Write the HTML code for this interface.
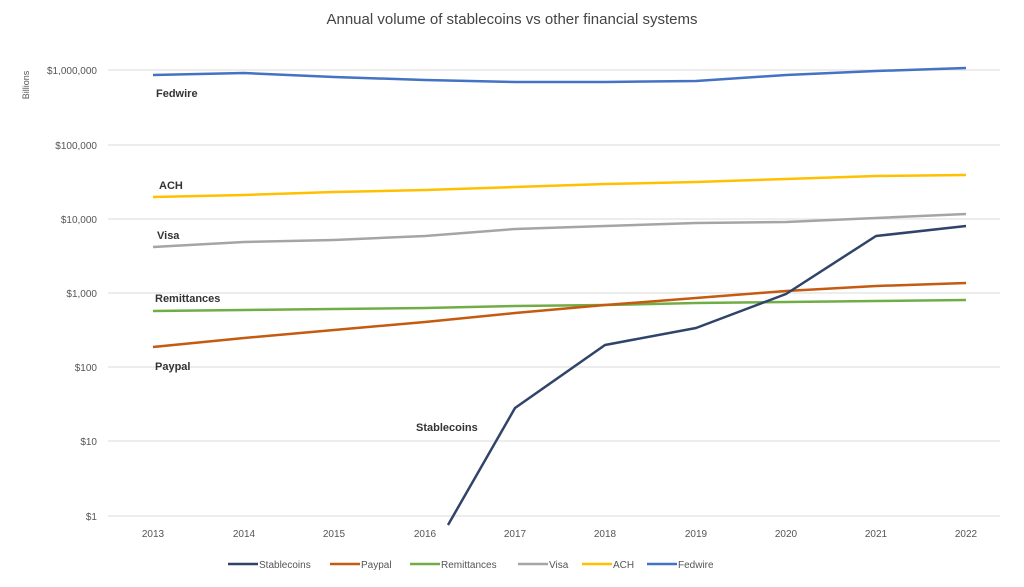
<!DOCTYPE html>
<html><head><meta charset="utf-8"><style>
body{margin:0;background:#fff;}
svg{display:block;font-family:"Liberation Sans",sans-serif;}
</style></head><body>
<svg width="1024" height="587" viewBox="0 0 1024 587">
<rect width="1024" height="587" fill="#fff"/>
<text x="512" y="24" text-anchor="middle" font-size="15" fill="#444">Annual volume of stablecoins vs other financial systems</text>
<text transform="translate(29,85) rotate(-90)" text-anchor="middle" font-size="9" fill="#555">Billions</text>
<g stroke="#e2e2e2" stroke-width="1.2">
<line x1="108" x2="1000" y1="70" y2="70"/><line x1="108" x2="1000" y1="145" y2="145"/>
<line x1="108" x2="1000" y1="219" y2="219"/><line x1="108" x2="1000" y1="293" y2="293"/>
<line x1="108" x2="1000" y1="367" y2="367"/><line x1="108" x2="1000" y1="441" y2="441"/>
<line x1="108" x2="1000" y1="516" y2="516"/>
</g>
<g font-size="10" fill="#555" text-anchor="end">
<text x="97" y="74">$1,000,000</text><text x="97" y="149">$100,000</text>
<text x="97" y="223">$10,000</text><text x="97" y="297">$1,000</text>
<text x="97" y="371">$100</text><text x="97" y="445">$10</text><text x="97" y="520">$1</text>
</g>
<g font-size="10" fill="#555" text-anchor="middle">
<text x="153" y="537">2013</text><text x="244" y="537">2014</text><text x="334" y="537">2015</text>
<text x="425" y="537">2016</text><text x="515" y="537">2017</text><text x="605" y="537">2018</text>
<text x="696" y="537">2019</text><text x="786" y="537">2020</text><text x="876" y="537">2021</text>
<text x="966" y="537">2022</text>
</g>
<g fill="none" stroke-width="2.5" stroke-linejoin="round">
<polyline stroke="#4472c4" points="153,75 244,73 334,77 425,80 515,82 605,82 696,81 786,75 876,71 966,68"/>
<polyline stroke="#ffc000" points="153,197 244,195 334,192 425,190 515,187 605,184 696,182 786,179 876,176 966,175"/>
<polyline stroke="#a5a5a5" points="153,247 244,242 334,240 425,236 515,229 605,226 696,223 786,222 876,218 966,214"/>
<polyline stroke="#70ad47" points="153,311 244,310 334,309 425,308 515,306 605,305 696,303 786,302 876,301 966,300"/>
<polyline stroke="#c55a11" points="153,347 244,338 334,330 425,322 515,313 605,305 696,298 786,291 876,286 966,283"/>
<polyline stroke="#2f4468" points="448,525 515,408 605,345 696,328 786,294 876,236 966,226"/>
</g>
<g font-size="11" font-weight="bold" fill="#333">
<text x="156" y="97">Fedwire</text><text x="159" y="189">ACH</text><text x="157" y="239">Visa</text>
<text x="155" y="302">Remittances</text><text x="155" y="370">Paypal</text><text x="416" y="431">Stablecoins</text>
</g>
<g font-size="10" fill="#555">
<line x1="228" x2="258" y1="564" y2="564" stroke="#2f4468" stroke-width="2.5"/><text x="259" y="568">Stablecoins</text>
<line x1="330" x2="360" y1="564" y2="564" stroke="#c55a11" stroke-width="2.5"/><text x="361" y="568">Paypal</text>
<line x1="410" x2="440" y1="564" y2="564" stroke="#70ad47" stroke-width="2.5"/><text x="441" y="568">Remittances</text>
<line x1="518" x2="548" y1="564" y2="564" stroke="#a5a5a5" stroke-width="2.5"/><text x="549" y="568">Visa</text>
<line x1="582" x2="612" y1="564" y2="564" stroke="#ffc000" stroke-width="2.5"/><text x="613" y="568">ACH</text>
<line x1="647" x2="677" y1="564" y2="564" stroke="#4472c4" stroke-width="2.5"/><text x="678" y="568">Fedwire</text>
</g>
</svg>
</body></html>
